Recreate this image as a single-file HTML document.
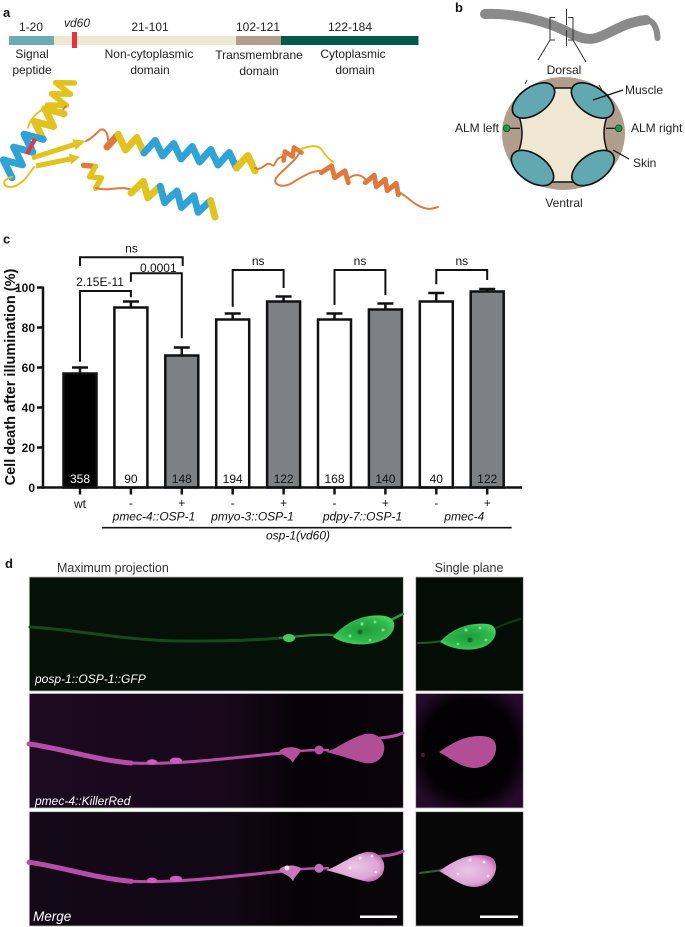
<!DOCTYPE html>
<html><head><meta charset="utf-8"><style>
html,body{margin:0;padding:0;background:#fff;}
svg{display:block;}
text{font-family:"Liberation Sans",Arial,sans-serif;}
</style></head><body>
<svg width="685" height="927" viewBox="0 0 685 927" xmlns="http://www.w3.org/2000/svg">
<defs>
<linearGradient id="r2bg" x1="0" y1="0" x2="1" y2="0">
<stop offset="0" stop-color="#1c0a21"/><stop offset="0.55" stop-color="#170819"/><stop offset="0.72" stop-color="#060207"/><stop offset="1" stop-color="#0a040b"/>
</linearGradient>
<linearGradient id="r3bg" x1="0" y1="0" x2="1" y2="0">
<stop offset="0" stop-color="#150918"/><stop offset="0.55" stop-color="#120714"/><stop offset="0.72" stop-color="#050305"/><stop offset="1" stop-color="#080608"/>
</linearGradient>
<radialGradient id="r2rbg" cx="0.5" cy="0.48" r="0.6">
<stop offset="0" stop-color="#000"/><stop offset="0.72" stop-color="#040104"/><stop offset="1" stop-color="#260a2b"/>
</radialGradient>
<radialGradient id="gcell" cx="0.5" cy="0.5" r="0.55">
<stop offset="0" stop-color="#1f9a3a"/><stop offset="0.7" stop-color="#2fb84b"/><stop offset="1" stop-color="#45d060"/>
</radialGradient>
<radialGradient id="mcell" cx="0.5" cy="0.5" r="0.55">
<stop offset="0" stop-color="#ecc6e6"/><stop offset="0.75" stop-color="#dca4d4"/><stop offset="1" stop-color="#c466b4"/>
</radialGradient>
</defs>

<!-- ===== Panel a ===== -->
<text x="3" y="17" font-size="13" font-weight="bold" fill="#111">a</text>
<rect x="9" y="36" width="45" height="9" fill="#68adb4"/>
<rect x="54" y="36" width="182" height="9" fill="#efe7d1"/>
<rect x="236" y="36" width="45" height="9" fill="#b29e8c"/>
<rect x="281" y="36" width="137.5" height="9" fill="#00594d"/>
<rect x="72" y="32" width="5" height="16" fill="#e8323c"/>
<g font-size="12" fill="#222" text-anchor="middle">
<text x="31" y="31">1-20</text>
<text x="77" y="27" font-style="italic">vd60</text>
<text x="150" y="31">21-101</text>
<text x="258" y="31">102-121</text>
<text x="350" y="31">122-184</text>
<text x="32" y="58">Signal</text><text x="32" y="74">peptide</text>
<text x="149" y="58">Non-cytoplasmic</text><text x="150" y="74">domain</text>
<text x="259" y="59">Transmembrane</text><text x="259" y="75">domain</text>
<text x="353" y="58">Cytoplasmic</text><text x="355" y="74">domain</text>
</g>

<!-- protein structure -->
<g fill="none" stroke-linejoin="round" stroke-linecap="round">
<polyline points="74.5,83 55.5,82.6 70.5,94.2 51.5,93.8 66.5,105.4 47.5,105" stroke="#e2c31e" stroke-width="5.5"/>
<path d="M66,106 C62,110 62,112 62,114" stroke="#d8762e" stroke-width="1.8"/>
<path d="M48,105 C38,112 30,118 28,128" stroke="#e2c31e" stroke-width="1.8"/>
<polyline points="64,113.7 44.8,108.7 53.6,126.5 34.4,121.5 43.2,139.3" stroke="#e2c31e" stroke-width="7"/>
<polyline points="43.2,139.3 24,134.3 32.8,152.1 13.6,147.1 22.4,164.9 3.2,159.9 12,177.7" stroke="#30a3d6" stroke-width="7"/>
<path d="M12,177 C2,179 2,187 10,187 C20,187 28,176 34,167" stroke="#e2c31e" stroke-width="2"/>
<path d="M86,141 C92,139 96,133 100,130 C104,128 108,132 108,140" stroke="#e07a3c" stroke-width="2"/>
<polyline points="107,147 118.25,134.5" stroke="#e07a3c" stroke-width="7"/>
<polyline points="118.25,134.5 125.5,150 136.75,137.5 144,153" stroke="#e2c31e" stroke-width="7"/>
<polyline points="144,153 155.25,140.5 162.5,156 173.75,143.5 181,159 192.25,146.5 199.5,162 210.75,149.5 218,165 229.25,152.5 236.5,168" stroke="#30a3d6" stroke-width="7"/>
<polyline points="236.5,168 247.75,155.5 255,171" stroke="#e2c31e" stroke-width="7"/>
<polyline points="83.6,165.3 95.4,166.45" stroke="#e07a3c" stroke-width="5.5"/>
<polyline points="95.4,166.45 89.6,176.8 101.4,177.95 95.6,188.3" stroke="#e2c31e" stroke-width="5.5"/>
<path d="M96,188 C108,192 120,185 132,190" stroke="#e07a3c" stroke-width="2"/>
<polyline points="131,193 143.4,181.4 147.8,197.8 160.2,186.2" stroke="#e2c31e" stroke-width="7"/>
<polyline points="160.2,186.2 164.6,202.6 177,191 181.4,207.4 193.8,195.8 198.2,212.2 210.6,200.6" stroke="#30a3d6" stroke-width="7"/>
<polyline points="210.6,200.6 215,217" stroke="#e2c31e" stroke-width="7"/>
<path d="M255,168 C262,172 266,160 272,165 C276,168 274,158 282,157" stroke="#e07a3c" stroke-width="2"/>
<polyline points="283.6,160.6 284.9,151.4 292.6,156.6 293.9,147.4 301.6,152.6" stroke="#e07a3c" stroke-width="4.5"/>
<path d="M301,149 C310,146 318,144 322,150 C326,156 330,160 333,162" stroke="#e2c31e" stroke-width="2"/>
<path d="M300,152 C295,162 282,170 276,178 C272,186 285,189 295,181 C305,175 314,170 322,171" stroke="#e07a3c" stroke-width="2"/>
<polyline points="321.3,172.7 331.45,165.8 334.8,177.7 344.95,170.8 348.3,182.7" stroke="#e07a3c" stroke-width="5"/>
<path d="M349,178 C356,173 362,175 366,180" stroke="#e07a3c" stroke-width="2"/>
<polyline points="365.3,182.7 374.2,175.3 376.3,186.7 385.2,179.3 387.3,190.7 396.2,183.3 398.3,194.7" stroke="#e07a3c" stroke-width="5"/>
<path d="M399,192 C408,197 414,205 424,208 C430,210 434,208 438,207" stroke="#e07a3c" stroke-width="2"/>
</g>
<polygon points="31.2,155.6 73.2,142.2 72.3,139.4 86,140.8 75.7,149.8 74.8,147 32.8,160.4" fill="#e2c31e"/>
<polygon points="35.5,163.55 69.5,156.55 68.9,153.6 80,157 71.1,164.4 70.5,161.45 36.5,168.45" fill="#e2c31e"/>
<line x1="35" y1="139" x2="27" y2="154" stroke="#e8323c" stroke-width="4"/>

<!-- ===== Panel b ===== -->
<text x="455" y="12" font-size="13" font-weight="bold" fill="#111">b</text>
<path d="M485,14 C510,13 532,18 552,25 C570,32 582,42 596,38 C610,34 624,22 646,20" stroke="#8a8a8a" stroke-width="10" fill="none" stroke-linecap="round"/>
<path d="M645,19.5 C653,20 657,27 657.5,38" stroke="#8a8a8a" stroke-width="6" fill="none" stroke-linecap="round"/>
<g stroke="#333" stroke-width="1" fill="none">
<polyline points="555,17.5 550,17.5 550,40 555,40"/>
<polyline points="568,17.5 573,17.5 573,40 568,40"/>
<line x1="566.5" y1="9" x2="566.5" y2="25"/>
<line x1="566.5" y1="30" x2="566.5" y2="46"/>
<line x1="550" y1="40" x2="538" y2="60"/>
<line x1="573" y1="40" x2="586" y2="62"/>
<line x1="527" y1="80" x2="525" y2="84"/>
<line x1="599" y1="85" x2="602" y2="90"/>
</g>
<ellipse cx="563.5" cy="133.5" rx="61.5" ry="56.5" fill="#b19d8b"/>
<path d="M552,88 L574,88 L608,114 Q600,133 608,153 L574,182 L552,182 L518,153 Q526,133 518,114 Z" fill="#efe7d1" stroke="#111" stroke-width="1.5"/>
<g fill="#62a8b0" stroke="#111" stroke-width="1.6">
<ellipse cx="533.5" cy="100.5" rx="24" ry="13.5" transform="rotate(-35 533.5 100.5)"/>
<ellipse cx="592.5" cy="100.5" rx="24" ry="13.5" transform="rotate(35 592.5 100.5)"/>
<ellipse cx="532.5" cy="168" rx="24" ry="13.5" transform="rotate(35 532.5 168)"/>
<ellipse cx="593" cy="168" rx="24" ry="13.5" transform="rotate(-35 593 168)"/>
</g>
<g stroke="#111" stroke-width="1.2">
<line x1="510" y1="128.3" x2="520" y2="128.3"/>
<line x1="606" y1="128.3" x2="616" y2="128.3"/>
<line x1="593" y1="100" x2="623" y2="90"/>
<line x1="613" y1="150" x2="629" y2="159"/>
</g>
<circle cx="506.7" cy="128.3" r="3.4" fill="#1a9a4a" stroke="#0b4d22" stroke-width="0.8"/>
<circle cx="618.7" cy="128.3" r="3.4" fill="#1a9a4a" stroke="#0b4d22" stroke-width="0.8"/>
<g font-size="12" fill="#222">
<text x="564" y="74" text-anchor="middle">Dorsal</text>
<text x="564" y="207" text-anchor="middle">Ventral</text>
<text x="625" y="94">Muscle</text>
<text x="499" y="132" text-anchor="end">ALM left</text>
<text x="631" y="132">ALM right</text>
<text x="633" y="167">Skin</text>
</g>

<!-- ===== Panel c ===== -->
<text x="3" y="243.5" font-size="13" font-weight="bold" fill="#111">c</text>
<text transform="translate(15,377) rotate(-90)" text-anchor="middle" font-size="14.5" font-weight="bold" fill="#111">Cell death after illumination (%)</text>
<g font-size="12" font-weight="bold" text-anchor="end" fill="#111">
<text x="35" y="292">100</text>
<text x="35" y="332">80</text>
<text x="35" y="372">60</text>
<text x="35" y="412">40</text>
<text x="35" y="452">20</text>
<text x="35" y="492">0</text>
</g>
<g stroke="#111" stroke-width="2.5">
<line x1="37" y1="287.5" x2="43" y2="287.5"/>
<line x1="37" y1="327.5" x2="43" y2="327.5"/>
<line x1="37" y1="367.5" x2="43" y2="367.5"/>
<line x1="37" y1="407.5" x2="43" y2="407.5"/>
<line x1="37" y1="447.5" x2="43" y2="447.5"/>
<line x1="37" y1="487.5" x2="43" y2="487.5"/>
</g>
<g stroke="#111" stroke-width="2.5">
<rect x="63.5" y="373.5" width="33" height="114" fill="#000"/>
<rect x="114.4" y="307.5" width="33" height="180" fill="#fff"/>
<rect x="165.3" y="355.5" width="33" height="132" fill="#7e8084"/>
<rect x="216.2" y="319.5" width="33" height="168" fill="#fff"/>
<rect x="267.1" y="301.5" width="33" height="186" fill="#7e8084"/>
<rect x="318" y="319.5" width="33" height="168" fill="#fff"/>
<rect x="368.9" y="309.5" width="33" height="178" fill="#7e8084"/>
<rect x="419.8" y="301.5" width="33" height="186" fill="#fff"/>
<rect x="470.7" y="291.5" width="33" height="196" fill="#7e8084"/>
</g>
<g stroke="#111" stroke-width="2.5" fill="none">
<path d="M80,373.5 V367.5 M72,367.5 H88"/>
<path d="M130.9,307.5 V301.5 M122.9,301.5 H138.9"/>
<path d="M181.8,355.5 V347.5 M173.8,347.5 H189.8"/>
<path d="M232.7,319.5 V313.5 M224.7,313.5 H240.7"/>
<path d="M283.6,301.5 V296.5 M275.6,296.5 H291.6"/>
<path d="M334.5,319.5 V313.5 M326.5,313.5 H342.5"/>
<path d="M385.4,309.5 V303.5 M377.4,303.5 H393.4"/>
<path d="M436.3,301.5 V293 M428.3,293 H444.3"/>
<path d="M487.2,291.5 V289 M479.2,289 H495.2"/>
</g>
<g stroke="#111" stroke-width="2.5">
<line x1="43" y1="286.5" x2="43" y2="488.7"/>
<line x1="41.8" y1="487.5" x2="522" y2="487.5"/>
<line x1="80" y1="487.5" x2="80" y2="494.5"/>
<line x1="130.9" y1="487.5" x2="130.9" y2="494.5"/>
<line x1="181.8" y1="487.5" x2="181.8" y2="494.5"/>
<line x1="232.7" y1="487.5" x2="232.7" y2="494.5"/>
<line x1="283.6" y1="487.5" x2="283.6" y2="494.5"/>
<line x1="334.5" y1="487.5" x2="334.5" y2="494.5"/>
<line x1="385.4" y1="487.5" x2="385.4" y2="494.5"/>
<line x1="436.3" y1="487.5" x2="436.3" y2="494.5"/>
<line x1="487.2" y1="487.5" x2="487.2" y2="494.5"/>
</g>
<g stroke="#111" stroke-width="2" fill="none">
<path d="M80,266 V257.3 H182.7 V266"/>
<path d="M130.9,281.7 V273.3 H181.8 V338.3"/>
<path d="M80,361.7 V291 H130.9 V297.3"/>
<path d="M232.7,306.7 V270 H283.6 V288"/>
<path d="M334.5,305 V270 H385.4 V295"/>
<path d="M436.3,284.3 V270 H487.2 V280"/>
</g>
<g font-size="12" text-anchor="middle" fill="#111">
<text x="131.5" y="252.5">ns</text>
<text x="158.3" y="272">0.0001</text>
<text x="100" y="286">2.15E-11</text>
<text x="258.2" y="265">ns</text>
<text x="360" y="265">ns</text>
<text x="461.8" y="265">ns</text>
</g>
<g font-size="12" text-anchor="middle">
<text x="80" y="483" fill="#fff">358</text>
<text x="130.9" y="483" fill="#111">90</text>
<text x="181.8" y="483" fill="#111">148</text>
<text x="232.7" y="483" fill="#111">194</text>
<text x="283.6" y="483" fill="#111">122</text>
<text x="334.5" y="483" fill="#111">168</text>
<text x="385.4" y="483" fill="#111">140</text>
<text x="436.3" y="483" fill="#111">40</text>
<text x="487.2" y="483" fill="#111">122</text>
</g>
<g font-size="12" text-anchor="middle" fill="#111">
<text x="80" y="508">wt</text>
<text x="130.9" y="507">-</text>
<text x="181.8" y="507">+</text>
<text x="232.7" y="507">-</text>
<text x="283.6" y="507">+</text>
<text x="334.5" y="507">-</text>
<text x="385.4" y="507">+</text>
<text x="436.3" y="507">-</text>
<text x="487.2" y="507">+</text>
</g>
<g font-size="12" font-style="italic" text-anchor="middle" fill="#111">
<text x="154" y="520.5">pmec-4::OSP-1</text>
<text x="252.5" y="520.5">pmyo-3::OSP-1</text>
<text x="362.5" y="520.5">pdpy-7::OSP-1</text>
<text x="464.3" y="520.5">pmec-4</text>
<text x="298" y="539.5">osp-1(vd60)</text>
</g>
<line x1="102" y1="527.7" x2="511.7" y2="527.7" stroke="#111" stroke-width="1.6"/>

<!-- ===== Panel d ===== -->
<text x="5" y="568" font-size="13" font-weight="bold" fill="#111">d</text>
<text x="57" y="572" font-size="12.5" fill="#333">Maximum projection</text>
<text x="469" y="572" font-size="12.5" fill="#333" text-anchor="middle">Single plane</text>

<rect x="29.3" y="577" width="374" height="114" fill="#051006" stroke="#bdbdbd" stroke-width="0.8"/>
<rect x="29.3" y="693.5" width="374" height="114.5" fill="url(#r2bg)" stroke="#bdbdbd" stroke-width="0.8"/>
<rect x="29.3" y="811.7" width="374" height="114.3" fill="url(#r3bg)" stroke="#bdbdbd" stroke-width="0.8"/>
<rect x="415.7" y="577" width="107.6" height="114" fill="#040d05" stroke="#bdbdbd" stroke-width="0.8"/>
<rect x="415.7" y="693.5" width="107.6" height="114.5" fill="url(#r2rbg)" stroke="#bdbdbd" stroke-width="0.8"/>
<rect x="415.7" y="811.7" width="107.6" height="114.3" fill="#070707" stroke="#bdbdbd" stroke-width="0.8"/>

<!-- row 1 green -->
<g fill="none" stroke-linecap="round">
<path d="M30,627 C80,630 120,640 180,641 C230,641 260,640 280,638" stroke="#154a1e" stroke-width="3"/>
<path d="M280,638 C300,636 320,634 336,635" stroke="#22803a" stroke-width="2.2"/>
<path d="M386,622 C394,619 398,616 403,614" stroke="#2a9a3a" stroke-width="2.5"/>
<path d="M418,643 C428,643 436,642 442,641" stroke="#1b5a26" stroke-width="2"/>
<path d="M494,629 C502,625 510,622 520,619" stroke="#103a18" stroke-width="2"/>
</g>
<ellipse cx="289" cy="638" rx="6" ry="4" fill="#48c85c"/>
<path d="M333,637 C345,622 365,613 385,616 C396,618 397,628 389,636 C378,646 350,648 333,637 Z" fill="url(#gcell)"/>
<path d="M440,642 C452,628 470,622 488,624 C498,626 498,636 490,643 C480,652 456,652 440,642 Z" fill="url(#gcell)"/>
<g fill="#7fe08e">
<circle cx="362" cy="624" r="1.6"/><circle cx="375" cy="622" r="1.4"/><circle cx="350" cy="636" r="1.5"/><circle cx="370" cy="640" r="1.3"/><circle cx="383" cy="630" r="1.5"/>
<circle cx="466" cy="630" r="1.5"/><circle cx="480" cy="628" r="1.4"/><circle cx="458" cy="644" r="1.3"/><circle cx="486" cy="640" r="1.4"/>
</g>
<g fill="#136b28">
<circle cx="360" cy="632" r="2.5"/><circle cx="470" cy="640" r="2.5"/>
</g>

<!-- row 2 magenta -->
<g fill="none" stroke="#b64ea8" stroke-linecap="round">
<path d="M29,744 C60,748 95,760 131,763" stroke-width="5"/>
<path d="M131,763 C180,765 240,757 282,753" stroke-width="3"/>
<path d="M300,751 C310,750 318,750 328,750" stroke-width="2.5"/>
<path d="M380,738 C390,737 396,736 403,733" stroke-width="3"/>
</g>
<ellipse cx="152" cy="762" rx="5" ry="2.8" fill="#cf5cbf"/>
<ellipse cx="176" cy="760.5" rx="6" ry="3" fill="#cf5cbf"/>
<path d="M279,752 C282,746 296,746 301,750 C300,755 295,757 293,763 C290,757 283,756 279,752 Z" fill="#b4509c"/>
<circle cx="319" cy="750" r="4.5" fill="#b4509c"/>
<path d="M326,752 C338,748 350,738 365,734 C375,732 382,738 384,745 C386,758 375,765 365,763 C352,760 340,755 326,752 Z" fill="#b14e96"/>
<path d="M439,752 C450,745 462,736 480,736 C493,736 497,742 496,750 C494,762 484,768 474,768 C462,768 450,758 439,752 Z" fill="#b14e96"/>
<circle cx="423" cy="755" r="2" fill="#4a1a48"/>

<!-- row 3 merge -->
<g fill="none" stroke="#b64ea8" stroke-linecap="round">
<path d="M29,862.3 C60,866.3 95,878.3 131,881.3" stroke-width="5"/>
<path d="M131,881.3 C180,883.3 240,875.3 282,871.3" stroke-width="3"/>
<path d="M300,869.3 C310,868.3 318,868.3 328,868.3" stroke-width="2.5"/>
<path d="M380,856.3 C390,855.3 396,854.3 403,851.3" stroke-width="3"/>
<path d="M420,873 C428,872 436,871 442,870" stroke="#1f6a2c" stroke-width="2"/>
</g>
<ellipse cx="152" cy="880.3" rx="5" ry="2.8" fill="#cf5cbf"/>
<ellipse cx="176" cy="878.8" rx="6" ry="3" fill="#cf5cbf"/>
<path d="M279,870.3 C282,864.3 296,864.3 301,868.3 C300,873.3 295,875.3 293,881.3 C290,875.3 283,874.3 279,870.3 Z" fill="#c878bc"/>
<circle cx="287" cy="868" r="2.5" fill="#f4e4f2"/>
<circle cx="319" cy="868.3" r="4.5" fill="#c070b4"/>
<path d="M326,870.3 C338,866.3 350,856.3 365,852.3 C375,850.3 382,856.3 384,863.3 C386,876.3 375,883.3 365,881.3 C352,878.3 340,873.3 326,870.3 Z" fill="url(#mcell)"/>
<path d="M439,871 C450,864 462,855 480,855 C493,855 497,861 496,869 C494,881 484,887 474,887 C462,887 450,877 439,871 Z" fill="url(#mcell)"/>
<g fill="#fbeefa">
<circle cx="360" cy="858" r="1.5"/><circle cx="372" cy="856" r="1.4"/><circle cx="350" cy="868" r="1.4"/><circle cx="376" cy="872" r="1.3"/>
<circle cx="470" cy="860" r="1.5"/><circle cx="484" cy="862" r="1.4"/><circle cx="458" cy="874" r="1.3"/><circle cx="488" cy="876" r="1.4"/>
</g>

<g fill="#fff" font-style="italic">
<text x="35" y="683" font-size="12">posp-1::OSP-1::GFP</text>
<text x="35" y="805" font-size="12">pmec-4::KillerRed</text>
<text x="33" y="921" font-size="13.5">Merge</text>
</g>
<line x1="360" y1="916.7" x2="397" y2="916.7" stroke="#fff" stroke-width="2.5"/>
<line x1="480" y1="916.7" x2="518" y2="916.7" stroke="#fff" stroke-width="2.5"/>
</svg>
</body></html>
